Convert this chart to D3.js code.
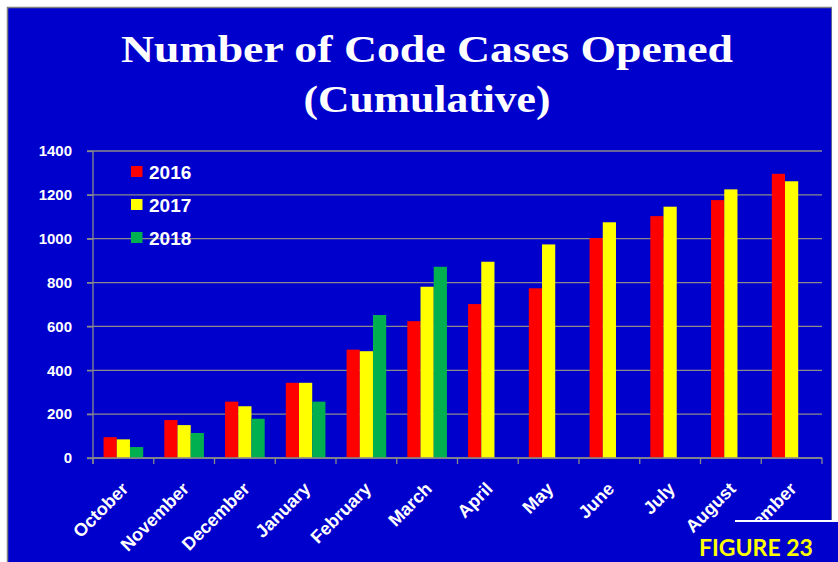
<!DOCTYPE html>
<html>
<head>
<meta charset="utf-8">
<script src="https://cdn.jsdelivr.net/npm/d3@7"></script>
<style>
  html, body { margin: 0; padding: 0; background: #ffffff; }
  svg { display: block; }
</style>
</head>
<body>
<svg></svg>
<script>
let months = ['October', 'November', 'December', 'January', 'February', 'March',
  'April', 'May', 'June', 'July', 'August', 'September'];
let years = ['2016', '2017', '2018'];
let values2016 = [95, 173, 257, 343, 494, 624, 702, 774, 1003, 1103, 1176, 1296];
let values2017 = [85, 150, 236, 343, 487, 781, 895, 974, 1075, 1146, 1225, 1262];
let values2018 = [50, 114, 179, 257, 652, 872];
let yTicks = [0, 200, 400, 600, 800, 1000, 1200, 1400];
let colors = ['#ff0000', '#ffff00', '#00b050'];

let width = 838;
let height = 562;
let blue = '#0000cc';
let gridColor = '#8a8a8a';

let svg = d3.select('svg');
let xScale;
let subScale;
let yScale;

// rows of {month, year, value}; 2018 stops at March
let bars = [];
[values2016, values2017, values2018].forEach((series, i) => {
  series.forEach((v, j) => {
    bars.push({ month: months[j], year: years[i], value: v, color: colors[i] });
  });
});

let drawCanvas = () => {
  svg.attr('width', width).attr('height', height);

  svg.append('rect').
  attr('x', 7.5).attr('y', 7.5).
  attr('width', 824.5).attr('height', 560).
  attr('fill', blue).
  attr('stroke', '#808080').
  attr('stroke-width', 1.5);

  svg.append('text').
  attr('x', 427).attr('y', 62).
  attr('text-anchor', 'middle').
  attr('fill', '#ffffff').
  attr('font-family', '"Liberation Serif", "DejaVu Serif", serif').
  attr('font-weight', 'bold').
  attr('font-size', 37).
  attr('textLength', 612).
  attr('lengthAdjust', 'spacingAndGlyphs').
  text('Number of Code Cases Opened');

  svg.append('text').
  attr('x', 427).attr('y', 112).
  attr('text-anchor', 'middle').
  attr('fill', '#ffffff').
  attr('font-family', '"Liberation Serif", "DejaVu Serif", serif').
  attr('font-weight', 'bold').
  attr('font-size', 37).
  attr('textLength', 247).
  attr('lengthAdjust', 'spacingAndGlyphs').
  text('(Cumulative)');
};

let generateScales = () => {
  xScale = d3.scaleBand().
  domain(months).
  range([93, 822]);

  subScale = d3.scaleBand().
  domain(years).
  range([0, xScale.bandwidth()]).
  paddingOuter(0.8);

  yScale = d3.scaleLinear().
  domain([0, 1400]).
  range([458, 151]);
};

let generateGrid = () => {
  svg.append('g').
  selectAll('line').
  data(yTicks).
  enter().
  append('line').
  attr('x1', 87).
  attr('x2', 822).
  attr('y1', d => yScale(d)).
  attr('y2', d => yScale(d)).
  attr('stroke', gridColor).
  attr('stroke-width', 1.3);
};

let generateRect = () => {
  svg.append('g').
  selectAll('rect').
  data(bars).
  enter().
  append('rect').
  attr('x', d => xScale(d.month) + subScale(d.year)).
  attr('y', d => yScale(d.value)).
  attr('width', subScale.bandwidth()).
  attr('height', d => yScale(0) - yScale(d.value)).
  attr('fill', d => d.color);
};

let generateAxes = () => {
  let yAxis = d3.axisLeft(yScale).
  tickValues(yTicks).
  tickSize(6).
  tickPadding(15).
  tickFormat(d3.format('d'));

  let yg = svg.append('g').
  attr('transform', 'translate(93, 0)').
  call(yAxis);
  yg.select('.domain').
  attr('d', 'M0,151V464').
  attr('stroke', gridColor).
  attr('stroke-width', 1.3);
  yg.selectAll('.tick line').attr('stroke', gridColor).attr('stroke-width', 1.3);
  yg.selectAll('.tick text').
  attr('fill', '#ffffff').
  attr('font-family', '"Liberation Sans", Arial, sans-serif').
  attr('font-weight', 'bold').
  attr('font-size', 15);

  let xAxis = d3.axisBottom(xScale).tickSize(0).tickFormat('');
  let xg = svg.append('g').
  attr('transform', 'translate(0, 458)').
  call(xAxis);
  xg.select('.domain').
  attr('d', 'M93,0H822').
  attr('stroke', gridColor).
  attr('stroke-width', 1.3);
  xg.selectAll('.tick').remove();

  // tick marks sit on the band edges, Excel style
  svg.append('g').
  selectAll('line').
  data(months.concat(['end'])).
  enter().
  append('line').
  attr('x1', (d, i) => i < months.length ? xScale(d) : xScale.range()[1]).
  attr('x2', (d, i) => i < months.length ? xScale(d) : xScale.range()[1]).
  attr('y1', 458).
  attr('y2', 464).
  attr('stroke', gridColor).
  attr('stroke-width', 1.3);

  svg.append('g').
  selectAll('text').
  data(months).
  enter().
  append('text').
  attr('transform', d => 'translate(' + (xScale(d) + xScale.bandwidth() / 2 + 6) + ', 490) rotate(-45)').
  attr('text-anchor', 'end').
  attr('fill', '#ffffff').
  attr('font-family', '"Liberation Sans", Arial, sans-serif').
  attr('font-weight', 'bold').
  attr('font-size', 18).
  text(d => d);
};

let generateLegend = () => {
  let legend = svg.append('g').
  selectAll('g').
  data(years).
  enter().
  append('g').
  attr('transform', (d, i) => 'translate(131, ' + (166 + i * 33) + ')');

  legend.append('rect').
  attr('width', 11.5).
  attr('height', 11).
  attr('fill', (d, i) => colors[i]);

  legend.append('text').
  attr('x', 18).
  attr('y', 12.5).
  attr('fill', '#ffffff').
  attr('font-family', '"Liberation Sans", Arial, sans-serif').
  attr('font-weight', 'bold').
  attr('font-size', 19).
  text(d => d);
};

let drawFigureTag = () => {
  svg.append('rect').
  attr('x', 832).attr('y', 0).
  attr('width', 6).attr('height', 521).
  attr('fill', '#ffffff');

  svg.append('rect').
  attr('x', 714).attr('y', 522).
  attr('width', 124).attr('height', 40).
  attr('fill', blue);

  svg.append('line').
  attr('x1', 735).attr('x2', 838).
  attr('y1', 521).attr('y2', 521).
  attr('stroke', '#ffffff').
  attr('stroke-width', 2);

  svg.append('text').
  attr('x', 699).attr('y', 556).
  attr('fill', '#ffff00').
  attr('font-family', 'Lato, "Open Sans", sans-serif').
  attr('font-weight', 'bold').
  attr('font-size', 23).
  text('FIGURE 23');
};

drawCanvas();
generateScales();
generateGrid();
generateRect();
generateAxes();
generateLegend();
drawFigureTag();
</script>
</body>
</html>
